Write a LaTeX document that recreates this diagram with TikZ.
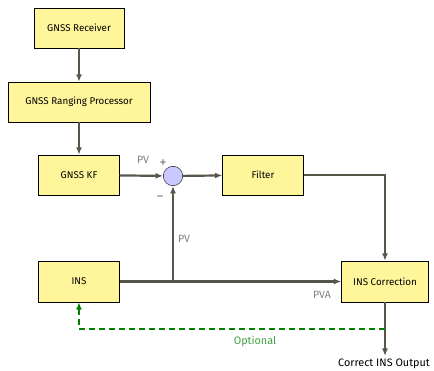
\documentclass[tikz,border=0pt]{standalone}
\usepackage{fontspec}
\setmainfont{Fira Sans}
\usetikzlibrary{arrows.meta}
\usetikzlibrary{calc}
\tikzset{>={Latex[length=7.5pt,width=6pt]}}
\definecolor{boxyellow}{RGB}{255,245,155}
\definecolor{linegray}{RGB}{88,85,75}
\definecolor{labelgray}{RGB}{128,128,128}
\definecolor{sumblue}{RGB}{200,200,255}
\definecolor{optgreen}{RGB}{0,128,0}
\tikzset{
  block/.style={draw=black, fill=boxyellow, minimum width=81pt, minimum height=40pt, font=\fontsize{9.8}{11}\selectfont},
  sig/.style={->, draw=linegray, line width=2.2pt},
  lbl/.style={text=labelgray, font=\fontsize{10.6}{12}\selectfont},
  sgn/.style={text=labelgray, font=\fontsize{15}{16}\selectfont}
}

\begin{document}
\begin{tikzpicture}[x=1pt,y=-1pt]
  \useasboundingbox (0,0) rectangle (434,371);
  \node [block, minimum width=90pt] (rec) at (79,28) {GNSS Receiver};
  \node [block, minimum width=142pt] (rng) at (79,102) {GNSS Ranging Processor};
  \node [block] (kf) at (79,175) {GNSS KF};
  \node [circle, draw=black, fill=sumblue, minimum size=19.5pt, inner sep=0pt] (sum) at (173,176) {};
  \node [block] (filt) at (263,175) {Filter};
  \node [block, minimum height=41pt] (ins) at (79,281.5) {INS};
  \node [block, minimum width=87pt, minimum height=41pt] (corr) at (385,281.5) {INS Correction};
  \coordinate (join) at (sum |- ins);
  \coordinate (out) at (385,356);

  \draw [sig] (rec) -- (rng);
  \draw [sig] (rng) -- (kf);
  \draw [sig] (kf) -- (sum);
  \draw [sig] (sum) -- (filt);
  \draw [sig] (filt.east) -| (corr.north);
  \draw [sig] (ins.east) -- (corr.west);
  \draw [sig] (join) -- (sum.south);
  \draw [sig] (corr.south) -- (out);
  \draw [->, optgreen, line width=2.2pt, dash pattern=on 6pt off 4pt]
    ($(corr.south)!0.5!(out)$) -| (ins.south);

  \node [lbl] (pv1) at (143,160) {PV};
  \node [sgn] (plus) at (163,164) {+};
  \node [sgn] (minus) at (160,199) {−};
  \node [lbl] (pv2) at (184,239) {PV};
  \node [lbl] (pva) at (322,295) {PVA};
  \node [text=optgreen!75, font=\fontsize{10.8}{12}\selectfont] (opt) at (255,341) {Optional};
  \node [font=\fontsize{10.8}{12}\selectfont] (outlbl) at (384,364) {Correct INS Output};
\end{tikzpicture}
\end{document}
